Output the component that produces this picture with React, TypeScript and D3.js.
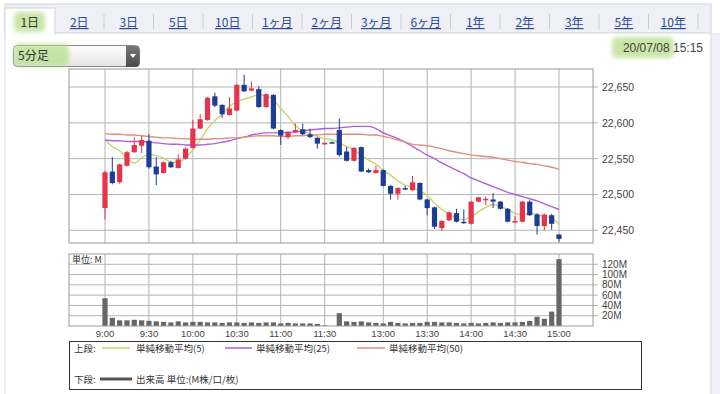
import * as d3 from 'd3';

// 5分足 OHLC (index = 5分スロット, 0 = 9:00)
const opens = [22481, 22532, 22517, 22540, 22559, 22568, 22575, 22539, 22530, 22545, 22537, 22550, 22565, 22592, 22604, 22637, 22625, 22611, 22617, 22653, 22645, 22647, 22622, 22639, 22590, 22580, 22587, 22591, 22584, 22579, 22570, 22573, 22590, 22560, 22547, 22566, 22534, 22530, 22534, 22512, 22501, 22509, 22506, 22516, 22493, 22482, 22453, 22464, 22474, 22462, 22459, 22490, 22492, 22493, 22490, 22480, 22461, 22462, 22490, 22472, 22456, 22471, 22444];
const highs = [22533, 22552, 22543, 22561, 22580, 22582, 22584, 22552, 22546, 22547, 22556, 22565, 22604, 22612, 22636, 22642, 22626, 22636, 22654, 22667, 22658, 22651, 22641, 22640, 22591, 22588, 22599, 22599, 22592, 22580, 22573, 22574, 22606, 22566, 22566, 22567, 22536, 22540, 22535, 22513, 22510, 22512, 22526, 22517, 22494, 22483, 22464, 22476, 22480, 22479, 22491, 22497, 22497, 22502, 22491, 22481, 22470, 22491, 22492, 22474, 22473, 22473, 22445];
const lows = [22465, 22514, 22515, 22539, 22558, 22558, 22536, 22513, 22529, 22537, 22536, 22549, 22564, 22591, 22603, 22622, 22607, 22610, 22616, 22643, 22644, 22621, 22621, 22591, 22569, 22577, 22586, 22583, 22579, 22564, 22569, 22571, 22553, 22546, 22546, 22531, 22530, 22529, 22511, 22493, 22493, 22506, 22505, 22492, 22471, 22452, 22449, 22463, 22461, 22459, 22458, 22489, 22485, 22481, 22479, 22461, 22460, 22461, 22470, 22444, 22450, 22451, 22434];
const closes = [22531, 22516, 22542, 22559, 22569, 22576, 22538, 22528, 22545, 22538, 22549, 22564, 22592, 22605, 22635, 22624, 22612, 22620, 22653, 22644, 22648, 22622, 22640, 22592, 22582, 22587, 22590, 22584, 22580, 22571, 22572, 22572, 22555, 22547, 22565, 22532, 22531, 22534, 22512, 22501, 22509, 22508, 22517, 22493, 22481, 22455, 22463, 22475, 22462, 22460, 22490, 22496, 22494, 22490, 22480, 22462, 22463, 22490, 22471, 22456, 22472, 22459, 22438];

// 単純移動平均
const ma5 = [22576, 22567, 22561, 22551, 22544, 22551, 22556, 22554, 22551, 22545, 22545, 22551, 22562, 22576, 22592, 22603, 22612, 22623, 22629, 22633, 22636, 22639, 22638, 22632, 22620, 22609, 22596, 22589, 22585, 22581, 22578, 22576, 22572, 22567, 22562, 22555, 22548, 22542, 22534, 22527, 22519, 22513, 22510, 22505, 22499, 22488, 22479, 22473, 22466, 22465, 22469, 22476, 22482, 22486, 22483, 22479, 22474, 22472, 22474, 22472, 22469, 22467, 22458];
const ma25 = [22576, 22575, 22575, 22574, 22574, 22574, 22573, 22572, 22571, 22570, 22570, 22569, 22569, 22569, 22570, 22571, 22573, 22575, 22578, 22580, 22583, 22585, 22586, 22586, 22586, 22587, 22587, 22589, 22590, 22591, 22592, 22592, 22593, 22594, 22595, 22595, 22595, 22592, 22586, 22582, 22578, 22573, 22567, 22561, 22555, 22550, 22544, 22539, 22534, 22529, 22523, 22519, 22515, 22511, 22507, 22503, 22500, 22497, 22494, 22491, 22487, 22483, 22479];
const ma50 = [22585, 22584, 22584, 22583, 22583, 22582, 22581, 22580, 22579, 22579, 22578, 22578, 22577, 22577, 22577, 22578, 22578, 22579, 22579, 22580, 22581, 22582, 22582, 22582, 22581, 22581, 22582, 22582, 22583, 22583, 22584, 22584, 22584, 22584, 22584, 22584, 22583, 22583, 22581, 22579, 22576, 22573, 22570, 22569, 22568, 22566, 22564, 22561, 22559, 22557, 22555, 22554, 22553, 22552, 22550, 22548, 22546, 22545, 22543, 22542, 22540, 22538, 22535];

// 出来高 (M)
const volumes = [54, 16, 11, 11, 12, 11, 10, 9, 8, 7, 9, 7, 8, 8, 7, 7, 6, 7, 7, 6, 7, 6, 7, 7, 5, 6, 5, 5, 5, 4, 1, 0, 25, 9, 8, 9, 7, 6, 5, 8, 6, 5, 6, 6, 8, 8, 7, 7, 6, 5, 6, 5, 6, 7, 6, 7, 7, 8, 10, 18, 14, 28, 130];

const timeLabels = ['9:00', '9:30', '10:00', '10:30', '11:00', '11:30', '13:00', '13:30', '14:00', '14:30', '15:00'];
const timeSlots = [0, 6, 12, 18, 24, 30, 38, 44, 50, 56, 62];
const priceTicks = [22450, 22500, 22550, 22600, 22650];
const volumeTicks = [20, 40, 60, 80, 100, 120];
const tabs = ['1日', '2日', '3日', '5日', '10日', '1ヶ月', '2ヶ月', '3ヶ月', '6ヶ月', '1年', '2年', '3年', '5年', '10年'];

const plotL = 69;
const plotR = 593;
const priceTop = 69;
const priceBottom = 243;
const volTop = 254;
const volBottom = 326;

const UP = '#e5334b';
const DOWN = '#1d3c96';
const GRID = '#b4b4b4';
const BORDER = '#9a9a9a';
const latin = "'Liberation Sans', Arial, sans-serif";
const jp = "'Noto Sans CJK JP', sans-serif";

export default function App() {
  const x = d3.scaleLinear().domain([0, 62]).range([105, 559]);
  const y = d3.scaleLinear().domain([22450, 22650]).range([230.3, 87]);
  const yv = d3.scaleLinear().domain([0, 140]).range([volBottom, volTop]);
  const tabX = d3.scaleBand().domain(tabs).range([5, 698]);

  const maLine = d3
    .line<number>()
    .x((_, i) => x(i))
    .y((d) => y(d))
    .curve(d3.curveMonotoneX);

  const mas = [
    { data: ma5, color: '#c9d36c' },
    { data: ma25, color: '#b05ee0' },
    { data: ma50, color: '#e0907c' },
  ];

  return (
    <svg
      width={720}
      height={394}
      style={{ position: 'absolute', left: 0, top: 0, background: '#fff' }}
    >
      <defs>
        <filter id="soft" x="-20%" y="-30%" width="140%" height="160%">
          <feGaussianBlur stdDeviation="2" />
        </filter>
        <linearGradient id="sel" x1="0" y1="0" x2="0" y2="1">
          <stop offset="0%" stopColor="#ffffff" />
          <stop offset="100%" stopColor="#e4e4e4" />
        </linearGradient>
        <linearGradient id="btn" x1="0" y1="0" x2="0" y2="1">
          <stop offset="0%" stopColor="#777" />
          <stop offset="100%" stopColor="#4a4a4a" />
        </linearGradient>
      </defs>

      {/* tab bar */}
      <rect x={5} y={4} width={706} height={29} fill="#eef0f6" stroke="#cfd3dc" />
      <rect x={711} y={33} width={9} height={361} fill="#eef0f6" />
      <line x1={711} x2={711} y1={33} y2={394} stroke="#d6d9e0" />
      <line x1={5} x2={5} y1={33} y2={394} stroke="#d6d9e0" />
      <rect x={5} y={8} width={50} height={26} fill="#fff" stroke="#cfd3dc" />
      <rect x={5.5} y={32} width={49} height={3} fill="#fff" />
      <rect x={14} y={12} width={31} height={20} rx={5} fill="#b7de8c" opacity={0.75} filter="url(#soft)" />
      {tabs.map((t, i) => (
        <g key={t}>
          <text
            x={(tabX(t) ?? 0) + tabX.bandwidth() / 2}
            y={27}
            textAnchor="middle"
            fontFamily={jp}
            fontSize={12}
            fill={i === 0 ? '#333' : '#2b4a9c'}
            textDecoration={i === 0 ? 'none' : 'underline'}
          >
            {t}
          </text>
          {i > 0 && (
            <line
              x1={(tabX(t) ?? 0) + tabX.bandwidth()}
              x2={(tabX(t) ?? 0) + tabX.bandwidth()}
              y1={14}
              y2={29}
              stroke="#c9ccd6"
            />
          )}
        </g>
      ))}

      {/* dropdown */}
      <rect x={13.5} y={45.5} width={126} height={21} rx={4} fill="url(#sel)" stroke="#888" />
      <path d="M126,46 h9.5 a4,4 0 0 1 4,4 v13 a4,4 0 0 1 -4,4 h-9.5 z" fill="url(#btn)" />
      <path d="M130,54 h6 l-3,4 z" fill="#fff" />
      <rect x={14} y={44} width={55} height={22} rx={5} fill="#b7de8c" opacity={0.75} filter="url(#soft)" />
      <text x={18} y={60} fontFamily={jp} fontSize={12} fill="#333">5分足</text>

      {/* date */}
      <rect x={612} y={37} width={62} height={21} rx={5} fill="#b7de8c" opacity={0.75} filter="url(#soft)" />
      <text x={703} y={52} textAnchor="end" fontFamily={latin} fontSize={12} fill="#444">
        20/07/08 15:15
      </text>

      {/* price panel grid */}
      {priceTicks.map((t) => (
        <g key={t}>
          <line x1={plotL} x2={plotR + 5} y1={y(t)} y2={y(t)} stroke={GRID} />
          <text x={602} y={y(t) + 4} fontFamily={latin} fontSize={10.5} fill="#444">
            {d3.format(',')(t)}
          </text>
        </g>
      ))}
      {timeSlots.map((s) => (
        <g key={s}>
          <line x1={x(s)} x2={x(s)} y1={priceTop} y2={priceBottom} stroke={GRID} />
          <line x1={x(s)} x2={x(s)} y1={volTop} y2={volBottom} stroke={GRID} />
        </g>
      ))}
      <rect
        x={plotL}
        y={priceTop}
        width={plotR - plotL}
        height={priceBottom - priceTop}
        fill="none"
        stroke={BORDER}
      />

      {/* moving averages */}
      {mas.map((m) => (
        <path key={m.color} d={maLine(m.data) ?? ''} fill="none" stroke={m.color} strokeWidth={1.4} />
      ))}

      {/* candles */}
      {opens.map((o, i) => {
        const c = closes[i];
        const col = c >= o ? UP : DOWN;
        const top = y(Math.max(o, c));
        const bot = y(Math.min(o, c));
        return (
          <g key={i}>
            <line x1={x(i)} x2={x(i)} y1={y(highs[i])} y2={y(lows[i])} stroke={col} />
            <rect x={x(i) - 2.6} y={top} width={5.2} height={Math.max(1.5, bot - top)} fill={col} />
          </g>
        );
      })}

      {/* volume panel */}
      {volumeTicks.map((t) => (
        <g key={t}>
          <line x1={plotL} x2={plotR + 5} y1={yv(t)} y2={yv(t)} stroke={GRID} />
          <text x={602} y={yv(t) + 3.5} fontFamily={latin} fontSize={10} fill="#444">
            {t}M
          </text>
        </g>
      ))}
      {volumes.map((v, i) => (
        <rect key={i} x={x(i) - 2.6} y={yv(v)} width={5.2} height={volBottom - yv(v)} fill="#666" />
      ))}
      <rect
        x={plotL}
        y={volTop}
        width={plotR - plotL}
        height={volBottom - volTop}
        fill="none"
        stroke={BORDER}
      />
      <text x={72} y={263} fontFamily={jp} fontSize={9} fill="#333">単位: M</text>

      {/* time axis */}
      {timeSlots.map((s, i) => (
        <text key={s} x={x(s)} y={336.5} textAnchor="middle" fontFamily={latin} fontSize={9.5} fill="#444">
          {timeLabels[i]}
        </text>
      ))}

      {/* legend */}
      <rect x={69.5} y={341.5} width={572} height={48} fill="#fff" stroke="#333" />
      <text x={74} y={352} fontFamily={jp} fontSize={9.5} fill="#333">上段:</text>
      <line x1={102} x2={130} y1={348} y2={348} stroke="#c9d36c" strokeWidth={1.5} />
      <text x={136} y={352} fontFamily={jp} fontSize={9.5} fill="#333">単純移動平均(5)</text>
      <line x1={225} x2={252} y1={348} y2={348} stroke="#b05ee0" strokeWidth={1.5} />
      <text x={256} y={352} fontFamily={jp} fontSize={9.5} fill="#333">単純移動平均(25)</text>
      <line x1={357} x2={385} y1={348} y2={348} stroke="#e0907c" strokeWidth={1.5} />
      <text x={389} y={352} fontFamily={jp} fontSize={9.5} fill="#333">単純移動平均(50)</text>
      <text x={74} y={383} fontFamily={jp} fontSize={9.5} fill="#333">下段:</text>
      <line x1={100} x2={132} y1={379} y2={379} stroke="#555" strokeWidth={3} />
      <text x={136} y={383} fontFamily={jp} fontSize={9.5} fill="#333">出来高 単位:(M株/口/枚)</text>
    </svg>
  );
}
